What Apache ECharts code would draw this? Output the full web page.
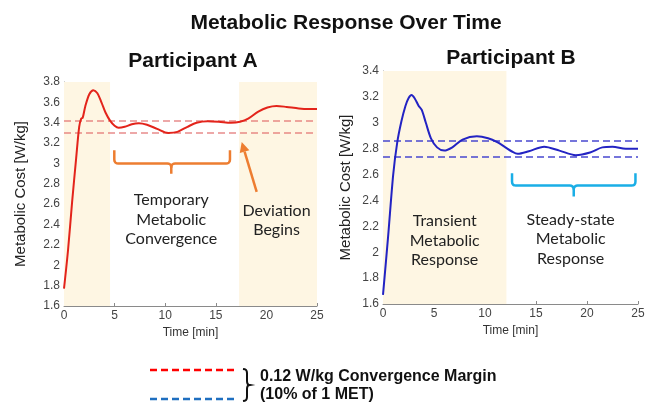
<!DOCTYPE html>
<html><head><meta charset="utf-8">
<script src="https://cdn.jsdelivr.net/npm/echarts@6/dist/echarts.min.js"></script>
<style>html,body{margin:0;padding:0;background:#fff}#c{width:658px;height:408px}</style>
</head><body><div id="c"></div>
<script>
// ---- data ----
const timeA = [0,0.4,0.8,1.2,1.5,1.7,1.85,2.1,2.5,2.9,3.3,3.7,4.1,4.55,5.0,5.4,6.0,6.7,7.4,8.2,9.2,10.3,11.2,12.2,13.1,14.2,15.3,16.5,17.4,18.2,19.2,20.1,21.0,22.0,23.2,24.2,25];
const costA = [1.77,2.15,2.62,3.05,3.36,3.44,3.45,3.56,3.68,3.72,3.69,3.60,3.50,3.42,3.37,3.35,3.36,3.385,3.395,3.38,3.34,3.30,3.31,3.36,3.40,3.415,3.41,3.40,3.41,3.44,3.51,3.55,3.565,3.555,3.54,3.535,3.535];
const timeB = [0,0.5,1.0,1.4,1.8,2.2,2.5,2.8,3.1,3.5,3.8,4.2,4.7,5.3,6.0,6.8,7.8,9.2,10.3,11.2,12.0,12.6,13.2,14.3,15.8,17.3,18.9,20.3,21.5,22.5,23.8,25];
const costB = [1.67,2.12,2.60,2.85,3.01,3.13,3.19,3.215,3.19,3.13,3.10,3.00,2.88,2.81,2.785,2.81,2.87,2.895,2.88,2.85,2.81,2.78,2.76,2.78,2.815,2.785,2.75,2.77,2.81,2.815,2.80,2.80];
const marginA = [3.30, 3.42];
const marginB = [2.74, 2.86];
const shadeA = [[0, 4.55], [17.3, 25]];
const shadeB = [[0, 12.1]];
const xTicks = [0, 5, 10, 15, 20, 25];
const yRangeA = [1.6, 3.8];
const yRangeB = [1.6, 3.4];

const chart = echarts.init(document.getElementById('c'), null, {renderer:'canvas'});
const axisCol = '#8a8a8a';
function xAx(gi){
  return {gridIndex:gi,type:'value',min:xTicks[0],max:xTicks[xTicks.length-1],interval:xTicks[1]-xTicks[0],
    name:'Time [min]',nameLocation:'middle',nameGap:20,
    nameTextStyle:{fontFamily:'Liberation Sans',fontSize:12,color:'#333'},
    axisLine:{lineStyle:{color:axisCol,width:1}},
    axisTick:{inside:true,length:3,lineStyle:{color:axisCol}},
    axisLabel:{fontFamily:'Liberation Sans',fontSize:12,color:'#444',margin:4},
    splitLine:{show:false}};
}
function yAx(gi,r){
  return {gridIndex:gi,type:'value',min:r[0],max:r[1],interval:0.2,
    name:'Metabolic Cost [W/kg]',nameLocation:'middle',nameGap:gi===0?36:30,
    nameTextStyle:{fontFamily:'Liberation Sans',fontSize:15,color:'#222'},
    axisLine:{show:true,lineStyle:{color:axisCol,width:1}},
    axisTick:{show:true,inside:true,length:3,lineStyle:{color:axisCol}},
    axisLabel:{fontFamily:'Liberation Sans',fontSize:12,color:'#444',margin:4,
      formatter:v=>String(+v.toFixed(1))},
    splitLine:{show:false}};
}
function zip(a,b){return a.map((t,i)=>[t,b[i]]);}
const shadeCol = '#FEF6E3';
chart.setOption({
  animation:false,
  title:[
    {text:'Metabolic Response Over Time',left:341,textAlign:'center',top:8,
     textStyle:{fontFamily:'Liberation Sans',fontWeight:'bold',fontSize:21,color:'#111'}},
    {text:'Participant A',left:188,textAlign:'center',top:46,
     textStyle:{fontFamily:'Liberation Sans',fontWeight:'bold',fontSize:21,color:'#111'}},
    {text:'Participant B',left:506,textAlign:'center',top:43,
     textStyle:{fontFamily:'Liberation Sans',fontWeight:'bold',fontSize:21,color:'#111'}}
  ],
  grid:[
    {left:64,top:82,width:253,height:224},
    {left:383,top:71,width:255,height:233}
  ],
  xAxis:[xAx(0),xAx(1)],
  yAxis:[yAx(0,yRangeA),yAx(1,yRangeB)],
  series:[
    {type:'line',xAxisIndex:0,yAxisIndex:0,data:zip(timeA,costA),smooth:0.3,showSymbol:false,
     lineStyle:{color:'#E3241B',width:2},z:5,
     markArea:{silent:true,itemStyle:{color:shadeCol},data:shadeA.map(s=>[{xAxis:s[0]},{xAxis:s[1]}])},
     markLine:{silent:true,symbol:'none',label:{show:false},
       lineStyle:{color:'rgba(222,100,100,0.75)',type:[7,4],width:1.5},
       data:marginA.map(v=>({yAxis:v}))}},
    {type:'line',xAxisIndex:1,yAxisIndex:1,data:zip(timeB,costB),smooth:0.3,showSymbol:false,
     lineStyle:{color:'#2323C3',width:2},z:5,
     markArea:{silent:true,itemStyle:{color:shadeCol},data:shadeB.map(s=>[{xAxis:s[0]},{xAxis:s[1]}])},
     markLine:{silent:true,symbol:'none',label:{show:false},
       lineStyle:{color:'#4848D0',type:[7,4],width:1.5},
       data:marginB.map(v=>({yAxis:v}))}}
  ]
});

function px(gi,x,y){return chart.convertToPixel({gridIndex:gi},[x,y]);}
function corner(p0,c,p1){
  const pts=[];
  for(let i=0;i<=4;i++){const t=i/4;
    pts.push([(1-t)*(1-t)*p0[0]+2*t*(1-t)*c[0]+t*t*p1[0],(1-t)*(1-t)*p0[1]+2*t*(1-t)*c[1]+t*t*p1[1]]);}
  return pts;
}
function brace(gi,x1,x2,xc,yT,yH,yB,color){
  const a=px(gi,x1,yT), b=px(gi,x1,yH), c=px(gi,xc,yH), d=px(gi,xc,yB), e=px(gi,x2,yH), f=px(gi,x2,yT);
  const r=4;
  const left=[a].concat(corner([b[0],b[1]-r],b,[b[0]+r,b[1]]),corner([c[0]-r,c[1]],c,[c[0],c[1]+r]),[d]);
  const right=[[c[0],c[1]+r]].concat(corner([c[0],c[1]+r],c,[c[0]+r,c[1]]).slice(1),corner([e[0]-r,e[1]],e,[e[0],e[1]-r]),[f]);
  const st={stroke:color,lineWidth:2.5,fill:null,lineJoin:'round'};
  return [{type:'polyline',z:20,shape:{points:left},style:st},{type:'polyline',z:20,shape:{points:right},style:st}];
}
function txt(x,y,s,font){
  return {type:'text',x:x,y:y,z:20,style:{text:s,fontFamily:font,fontSize:16,fill:'#222',
    textAlign:'center',textVerticalAlign:'middle',lineHeight:19.5}};
}
const orange='#ED7D31', cyan='#1AAEE6';
const tip=px(0,17.56,3.21), tail=px(0,19.04,2.72);
const dx=tip[0]-tail[0], dy=tip[1]-tail[1], L=Math.hypot(dx,dy), ux=dx/L, uy=dy/L;
const hl=10, hw=5;
const base=[tip[0]-ux*hl, tip[1]-uy*hl];
const cA=px(0,10.6,2.45), cD=px(0,21.0,2.44), cT=px(1,6.05,2.09), cS=px(1,18.4,2.10);
chart.setOption({graphic:[].concat(
  brace(0,4.97,16.4,10.6,3.13,3.0,2.9,orange),
  brace(1,12.65,24.75,18.7,2.61,2.515,2.43,cyan),
  [
  {type:'line',z:20,shape:{x1:tail[0],y1:tail[1],x2:base[0],y2:base[1]},style:{stroke:orange,lineWidth:2.5}},
  {type:'polygon',z:20,shape:{points:[tip,[base[0]-uy*hw,base[1]+ux*hw],[base[0]+uy*hw,base[1]-ux*hw]]},style:{fill:orange}},
  txt(cA[0],cA[1],'Temporary\nMetabolic\nConvergence','Lato'),
  txt(cD[0],cD[1],'Deviation\nBegins','Lato'),
  txt(cT[0],cT[1],'Transient\nMetabolic\nResponse','Lato'),
  txt(cS[0],cS[1],'Steady-state\nMetabolic\nResponse','Lato'),
  {type:'line',z:20,shape:{x1:150,y1:370,x2:237,y2:370},style:{stroke:'#FF0000',lineWidth:2.5,lineDash:[7,4]}},
  {type:'line',z:20,shape:{x1:150,y1:399,x2:237,y2:399},style:{stroke:'#1F6FC0',lineWidth:2.5,lineDash:[7,4]}},
  {type:'polyline',z:20,shape:{points:[].concat(corner([243,369],[247,369],[247,373]),corner([247,381],[247,385],[250,385]),corner([250,385],[247,385],[247,389]).slice(1),corner([247,397],[247,401],[243,401]))},style:{stroke:'#111',lineWidth:2,fill:null}},
  {type:'text',z:20,x:260,y:377,style:{text:'0.12 W/kg Convergence Margin',fontFamily:'Liberation Sans',fontSize:16,fontWeight:'bold',fill:'#111',textVerticalAlign:'middle'}},
  {type:'text',z:20,x:260,y:395,style:{text:'(10% of 1 MET)',fontFamily:'Liberation Sans',fontSize:16,fontWeight:'bold',fill:'#111',textVerticalAlign:'middle'}}
  ])});
</script></body></html>
